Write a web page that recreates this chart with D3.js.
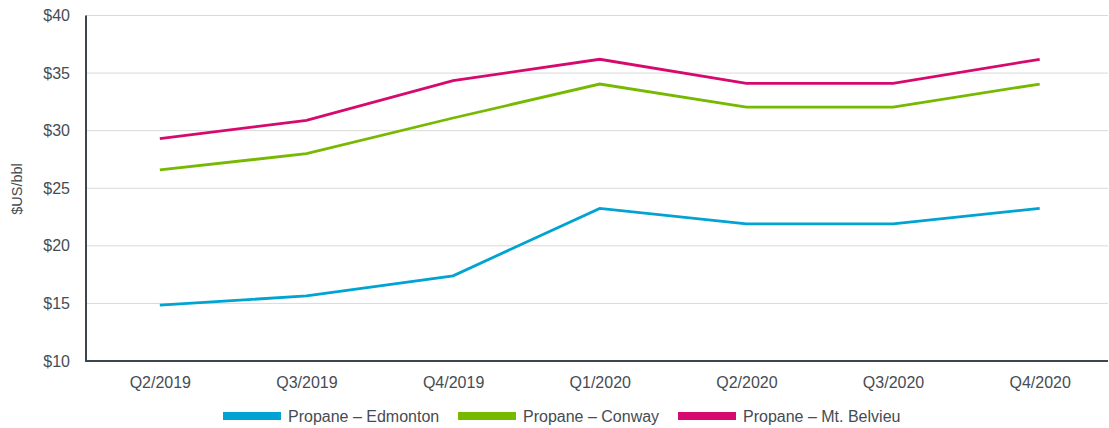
<!DOCTYPE html>
<html><head><meta charset="utf-8">
<script src="https://cdn.jsdelivr.net/npm/d3@7"></script>
<style>body{margin:0;background:#fff;} text{font-family:"Liberation Sans",Arial,sans-serif;}</style>
</head><body><svg id="c" width="1109" height="428"></svg>
<script>
const categories = ["Q2/2019","Q3/2019","Q4/2019","Q1/2020","Q2/2020","Q3/2020","Q4/2020"];
const edmonton = [14.85, 15.65, 17.4, 23.25, 21.9, 21.9, 23.25];
const conway = [26.6, 28.0, 31.1, 34.05, 32.05, 32.05, 34.05];
const belvieu = [29.3, 30.9, 34.35, 36.2, 34.1, 34.1, 36.2];
const seriesNames = ["Propane – Edmonton","Propane – Conway","Propane – Mt. Belvieu"];
const yTicks = [10,15,20,25,30,35,40];

const series = [
  {name: seriesNames[0], values: edmonton, color: "#00a3d1"},
  {name: seriesNames[1], values: conway, color: "#76b900"},
  {name: seriesNames[2], values: belvieu, color: "#d60a6e"}
];
const svg = d3.select("#c");
const L = 86, R = 1108, T = 15.5, B = 361;
const x = d3.scalePoint().domain(categories).range([L + 0.5, 1113]).padding(0.5);
const y = d3.scaleLinear().domain([10, 40]).range([B, T]);
const txt = "#464c53";

// gridlines
svg.append("g").selectAll("line").data(yTicks.filter(d => d > 10)).join("line")
  .attr("x1", L).attr("x2", R).attr("y1", d => y(d)).attr("y2", d => y(d))
  .attr("stroke", "#d9d9d9").attr("stroke-width", 1);

// y labels
const ya = svg.append("g").attr("transform", `translate(${L},0)`)
  .call(d3.axisLeft(y).tickValues(yTicks).tickFormat(d => "$" + d).tickSize(0).tickPadding(16));
ya.select(".domain").remove();
ya.selectAll("text").attr("font-size", 16).attr("fill", txt).attr("font-family", null);

// x labels
const xa = svg.append("g").attr("transform", `translate(0,${B})`)
  .call(d3.axisBottom(x).tickSize(0).tickPadding(16));
xa.select(".domain").remove();
xa.selectAll("text").attr("font-size", 16).attr("fill", txt).attr("font-family", null);

// axis lines
svg.append("line").attr("x1", L).attr("x2", L).attr("y1", T).attr("y2", B + 1)
  .attr("stroke", "#3b464e").attr("stroke-width", 2);
svg.append("line").attr("x1", L - 1).attr("x2", R).attr("y1", B).attr("y2", B)
  .attr("stroke", "#3b464e").attr("stroke-width", 2);

// lines
const line = d3.line().x((d, i) => x(categories[i])).y(d => y(d));
svg.append("g").selectAll("path").data(series).join("path")
  .attr("d", d => line(d.values)).attr("fill", "none")
  .attr("stroke", d => d.color).attr("stroke-width", 2.8);

// y title
svg.append("text").attr("transform", "translate(22,189) rotate(-90)")
  .attr("text-anchor", "middle").attr("font-size", 14.5).attr("fill", txt).text("$US/bbl");

// legend
const legX = [223, 458, 678];
const lg = svg.append("g").selectAll("g").data(series).join("g")
  .attr("transform", (d, i) => `translate(${legX[i]},416)`);
lg.append("rect").attr("x", 0).attr("y", -4).attr("width", 58).attr("height", 8).attr("fill", d => d.color);
lg.append("text").attr("x", 65).attr("y", 5.5).attr("font-size", 16).attr("fill", txt).text(d => d.name);
</script></body></html>
